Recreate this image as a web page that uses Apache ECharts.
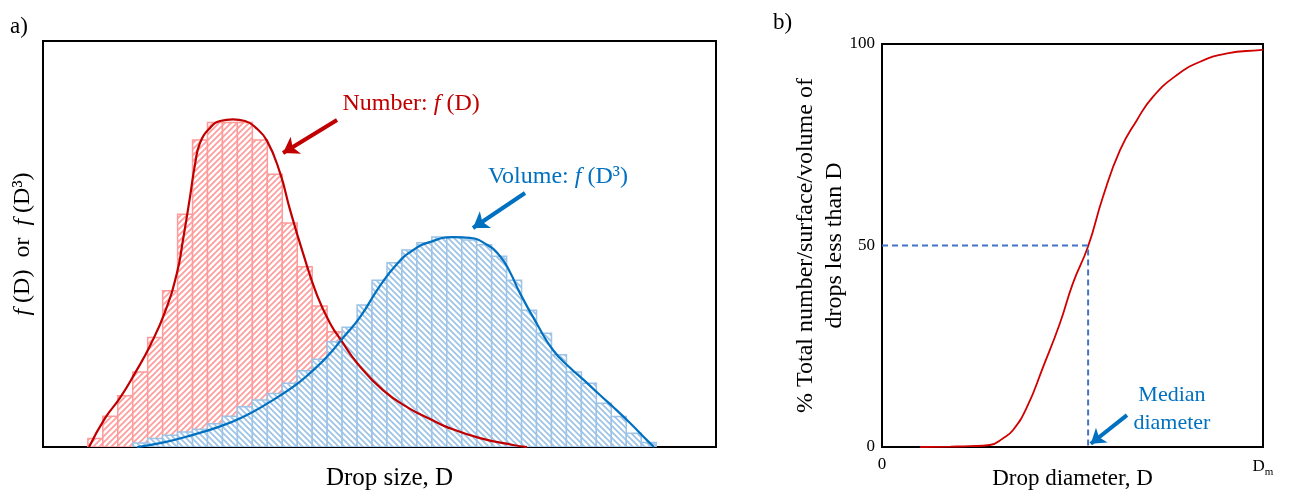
<!DOCTYPE html>
<html><head><meta charset="utf-8">
<script src="https://cdn.jsdelivr.net/npm/echarts@6/dist/echarts.min.js"></script>
<style>html,body{margin:0;padding:0;background:#fff}#c{width:1314px;height:492px}</style>
</head><body><div id="c"></div><script>
// ---------- Panel a: size distributions ----------
const binWidth = 1;            // drop-size units per histogram bin
const numberBinStart = 3;      // left edge of first "Number" bin
const volumeBinStart = 6;      // left edge of first "Volume" bin
const numberCounts = [2.1, 7.6, 12.6, 18.5, 27.0, 38.5, 57.3, 75.6, 79.9, 79.9, 79.9, 75.6, 67.2, 55.2, 44.4, 34.7, 28.4, 23, 19.5, 15.8, 12.8, 9.5, 7.1, 5.4, 3.9, 2.5, 1.7, 1.0, 0.5, 0.2];
const volumeCounts = [1.0, 2.1, 2.9, 3.7, 4.4, 5.7, 7.6, 9.9, 11.6, 13.2, 15.7, 18.8, 21.6, 25.9, 29.5, 35.0, 41.1, 45.4, 48.5, 50.3, 51.7, 51.7, 51.0, 49.8, 47.0, 41.1, 33.7, 28.0, 22.7, 18.5, 15.7, 10.8, 7.5, 3.4, 1.1];
const numberCurveD = [3.08, 4.15, 5.15, 6.15, 7.15, 8.16, 8.96, 9.36, 9.83, 10.16, 10.50, 11.17, 11.84, 12.70, 13.51, 14.18, 14.98, 15.85, 16.52, 17.38, 18.32, 19.19, 20.06, 21.00, 22.73, 24.54, 25.88, 27.01, 29.22, 31.43, 32.36];
const numberCurveF = [0, 7.1, 12.1, 18.2, 24.9, 33.3, 42.9, 51.0, 61.6, 69.5, 74.9, 78.6, 80.3, 80.7, 80.3, 78.8, 75.4, 67.5, 58.4, 47.8, 37.4, 30.5, 25.6, 20.7, 14.0, 9.4, 6.9, 4.9, 2.2, 0.5, 0];
const volumeCurveD = [6.29, 8.16, 10.03, 11.70, 13.37, 15.04, 16.72, 17.85, 18.99, 20.06, 21.20, 22.53, 23.67, 24.74, 25.88, 27.41, 28.55, 29.69, 30.56, 31.22, 31.89, 33.03, 34.10, 35.24, 36.37, 37.24, 38.11, 39.25, 40.38, 40.85];
const volumeCurveF = [0, 1.2, 3.0, 4.9, 7.4, 10.8, 14.8, 18.2, 22.2, 26.9, 32.0, 39.7, 45.1, 48.5, 50.5, 51.7, 51.5, 49.8, 47.0, 43.1, 37.9, 30.3, 23.9, 19.5, 15.8, 12.8, 9.9, 5.9, 1.7, 0];

// ---------- Panel b: cumulative distribution ----------
const cumD = [10, 18, 23, 28.3, 31.8, 34.4, 38.1, 42.3, 46.7, 50.1, 54.1, 58.0, 62.5, 66.9, 71.1, 77.4, 83.5, 90.6, 99.2, 100];
const cumPct = [0, 0.1, 0.2, 0.5, 2.2, 4.2, 10.0, 19.9, 30.7, 40.6, 49.8, 62.1, 73.7, 81.1, 86.9, 92.3, 95.6, 97.7, 98.5, 98.6];
const medianDiameter = 54.1;
const medianPct = 50;
const yTicksB = [0, 50, 100];
const xTickLabelsB = ['0', 'D_m'];

const serif = 'Liberation Serif';
const red = '#C00000', blue = '#0070C0', dashBlue = '#4472C4';

function hatch(color, up) {
  const s = 6, c = document.createElement('canvas');
  c.width = s; c.height = s;
  const g = c.getContext('2d');
  g.fillStyle = '#fff'; g.fillRect(0, 0, s, s);
  g.strokeStyle = color; g.lineWidth = 1.7;
  g.beginPath();
  if (up) {
    g.moveTo(0, s); g.lineTo(s, 0);
    g.moveTo(-1, 1); g.lineTo(1, -1);
    g.moveTo(s - 1, s + 1); g.lineTo(s + 1, s - 1);
  } else {
    g.moveTo(0, 0); g.lineTo(s, s);
    g.moveTo(-1, s - 1); g.lineTo(1, s + 1);
    g.moveTo(s - 1, -1); g.lineTo(s + 1, 1);
  }
  g.stroke();
  return { image: c, repeat: 'repeat' };
}
const redFill = hatch('#FF9C9C', true);
const blueFill = hatch('#9DC3E6', false);

function barRender(fill, stroke) {
  return function (params, api) {
    const x0 = api.value(0), h = api.value(1);
    const p0 = api.coord([x0, h]);
    const p1 = api.coord([x0 + binWidth, 0]);
    return {
      type: 'rect',
      shape: { x: p0[0], y: p0[1], width: p1[0] - p0[0], height: p1[1] - p0[1] },
      style: { fill: fill, stroke: stroke, lineWidth: 1.5 }
    };
  };
}
const zip = (a, b) => a.map((v, i) => [v, b[i]]);
const hidden = { axisLine: { show: false }, axisTick: { show: false }, splitLine: { show: false } };

const chart = echarts.init(document.getElementById('c'), null, { renderer: 'canvas' });
chart.setOption({
  animation: false,
  backgroundColor: '#fff',
  textStyle: { fontFamily: serif },
  grid: [
    { left: 43, top: 41, width: 673, height: 406, show: true, borderColor: '#000', borderWidth: 2, backgroundColor: 'transparent', containLabel: false, outerBoundsMode: 'none' },
    { left: 882, top: 44, width: 381, height: 403, show: true, borderColor: '#000', borderWidth: 2, backgroundColor: 'transparent', containLabel: false, outerBoundsMode: 'none' }
  ],
  xAxis: [
    Object.assign({ gridIndex: 0, type: 'value', min: 0, max: 45, axisLabel: { show: false },
      name: 'Drop size, D', nameLocation: 'middle', nameGap: 19, nameMoveOverlap: false,
      nameTextStyle: { fontFamily: serif, fontSize: 25, color: '#000', padding: [0, 0, 0, 20] } }, hidden),
    Object.assign({ gridIndex: 1, type: 'value', min: 0, max: 100, interval: 100,
      axisLabel: { show: true, margin: 9, color: '#000', fontFamily: serif, fontSize: 17,
        formatter: v => v === 0 ? xTickLabelsB[0] : '{d|D}{m|m}',
        rich: { d: { fontFamily: serif, fontSize: 17, color: '#000', lineHeight: 22 },
                m: { fontFamily: serif, fontSize: 11, color: '#000', verticalAlign: 'bottom', lineHeight: 12 } } },
      name: 'Drop diameter, D', nameLocation: 'middle', nameGap: 20, nameMoveOverlap: false,
      nameTextStyle: { fontFamily: serif, fontSize: 23, color: '#000' } }, hidden)
  ],
  yAxis: [
    Object.assign({ gridIndex: 0, type: 'value', min: 0, max: 100, axisLabel: { show: false },
      name: '{i|f} (D)  or  {i|f} (D³)', nameLocation: 'middle', nameRotate: 90, nameGap: 8, nameMoveOverlap: false,
      nameTextStyle: { fontFamily: serif, fontSize: 24, color: '#000',
        rich: { i: { fontFamily: serif, fontSize: 24, fontStyle: 'italic', color: '#000' } } } }, hidden),
    Object.assign({ gridIndex: 1, type: 'value', min: yTicksB[0], max: yTicksB[2], interval: yTicksB[1] - yTicksB[0],
      axisLabel: { show: true, margin: 7, color: '#000', fontFamily: serif, fontSize: 17 },
      name: '% Total number/surface/volume of\ndrops less than D', nameLocation: 'middle', nameRotate: 90, nameGap: 33, nameMoveOverlap: false,
      nameTextStyle: { fontFamily: serif, fontSize: 24, lineHeight: 29, color: '#000', align: 'center' } }, hidden)
  ],
  graphic: [
    { type: 'text', left: 10, top: 15, style: { text: 'a)', font: '23px "Liberation Serif"', fill: '#000' } },
    { type: 'text', left: 773, top: 11, style: { text: 'b)', font: '23px "Liberation Serif"', fill: '#000' } }
  ],
  series: [
    { type: 'custom', name: 'Number histogram', xAxisIndex: 0, yAxisIndex: 0, clip: true,
      renderItem: barRender(redFill, '#FF9A9A'),
      data: numberCounts.map((v, i) => [numberBinStart + i * binWidth, v]) },
    { type: 'custom', name: 'Volume histogram', xAxisIndex: 0, yAxisIndex: 0, clip: true,
      renderItem: barRender(blueFill, '#9DC3E6'),
      data: volumeCounts.map((v, i) => [volumeBinStart + i * binWidth, v]) },
    { type: 'line', name: 'Number: f(D)', xAxisIndex: 0, yAxisIndex: 0, smooth: 0.5,
      showSymbol: false, symbol: 'none', lineStyle: { color: red, width: 2.2 }, itemStyle: { color: red },
      data: zip(numberCurveD, numberCurveF),
      markLine: { silent: true, symbol: ['none', 'arrow'], symbolSize: 15, animation: false,
        lineStyle: { color: red, width: 4, type: 'solid' }, label: { show: false },
        data: [[{ coord: [19.66, 80.54] }, { coord: [16.05, 72.41] }]] },
      markPoint: { silent: true, symbol: 'rect', symbolSize: 1, itemStyle: { color: 'rgba(0,0,0,0)' },
        label: { show: true, position: 'inside', color: red, fontFamily: serif, fontSize: 24,
          formatter: 'Number: {i|f} (D)',
          rich: { i: { fontFamily: serif, fontSize: 24, fontStyle: 'italic', color: red } } },
        data: [{ coord: [24.61, 84.48] }] } },
    { type: 'line', name: 'Volume: f(D3)', xAxisIndex: 0, yAxisIndex: 0, smooth: 0.5,
      showSymbol: false, symbol: 'none', lineStyle: { color: blue, width: 2.2 }, itemStyle: { color: blue },
      data: zip(volumeCurveD, volumeCurveF),
      markLine: { silent: true, symbol: ['none', 'arrow'], symbolSize: 15, animation: false,
        lineStyle: { color: blue, width: 4, type: 'solid' }, label: { show: false },
        data: [[{ coord: [32.23, 62.56] }, { coord: [28.75, 53.94] }]] },
      markPoint: { silent: true, symbol: 'rect', symbolSize: 1, itemStyle: { color: 'rgba(0,0,0,0)' },
        label: { show: true, position: 'inside', color: blue, fontFamily: serif, fontSize: 24,
          formatter: 'Volume: {i|f} (D³)',
          rich: { i: { fontFamily: serif, fontSize: 24, fontStyle: 'italic', color: blue } } },
        data: [{ coord: [34.43, 66.5] }] } },
    { type: 'line', name: 'Cumulative', xAxisIndex: 1, yAxisIndex: 1, smooth: 0.5,
      showSymbol: false, symbol: 'none', lineStyle: { color: '#D00000', width: 1.8 },
      data: zip(cumD, cumPct) },
    { type: 'line', name: 'Median', xAxisIndex: 1, yAxisIndex: 1, showSymbol: false, symbol: 'none',
      lineStyle: { color: dashBlue, width: 2, type: [6, 4] },
      data: [[0, medianPct], [medianDiameter, medianPct], [medianDiameter, 0]],
      markLine: { silent: true, symbol: ['none', 'arrow'], symbolSize: 14, animation: false,
        lineStyle: { color: blue, width: 4, type: 'solid' }, label: { show: false },
        data: [[{ coord: [64.3, 7.9] }, { coord: [54.8, 0.8] }]] },
      markPoint: { silent: true, symbol: 'rect', symbolSize: 1, itemStyle: { color: 'rgba(0,0,0,0)' },
        label: { show: true, position: 'inside', color: blue, fontFamily: serif, fontSize: 22, lineHeight: 28,
          align: 'center', formatter: 'Median\ndiameter' },
        data: [{ coord: [76.1, 9.4] }] } }
  ]
});
</script></body></html>
